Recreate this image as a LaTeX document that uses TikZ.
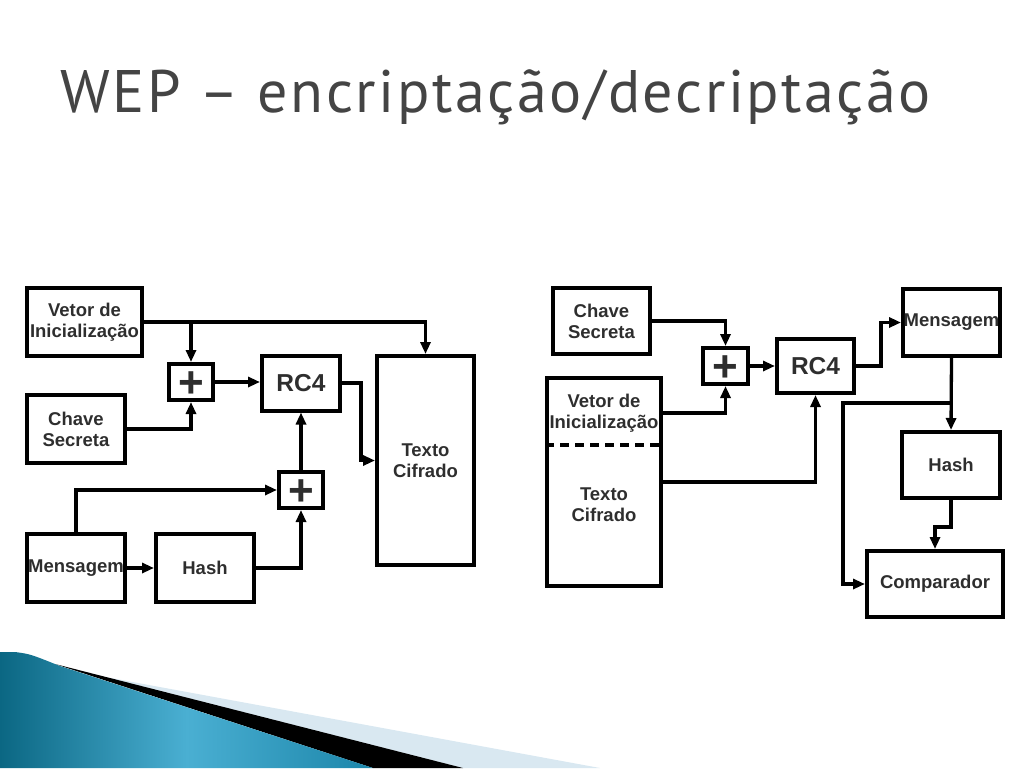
\documentclass[tikz,border=0pt]{standalone}
\usepackage{fontspec}
\setmainfont{Liberation Sans}
\newfontfamily\titlefont[LetterSpace=4.3]{PT Sans}
\usetikzlibrary{arrows.meta}
\definecolor{boxtext}{HTML}{2E2E2E}
\definecolor{titlegray}{HTML}{444444}
\definecolor{waveleft}{HTML}{0B6783}
\definecolor{wavemid}{HTML}{4AAFD2}
\definecolor{waveright}{HTML}{1C86AA}
\definecolor{wavelight}{HTML}{D9E8F1}
\newcommand{\plussign}{\raisebox{-15pt}[0pt][0pt]{+}}

\begin{document}
\begin{tikzpicture}[x=1pt,y=-1pt,
  box/.style={draw,line width=4pt,text=boxtext,align=center,inner sep=0pt,
    font=\bfseries\fontsize{18.5}{21}\selectfont},
  sumbox/.style={box,minimum width=44pt,minimum height=36pt,
    font=\bfseries\fontsize{44}{44}\selectfont},
  rcbox/.style={box,minimum width=77pt,minimum height=54pt,
    font=\bfseries\fontsize{24.5}{28}\selectfont},
  conn/.style={line width=3.3pt,-{Triangle[length=12pt,width=10pt]}}]
\useasboundingbox (0,0) rectangle (1024,768);

% title
\node[anchor=base west,inner sep=0pt,text=titlegray,font=\titlefont\fontsize{60}{70}\selectfont]
  (title) at (60,112) {WEP – encriptação/decriptação};

% bottom wave
\fill[wavelight] (100,676) -- (600,768) -- (463,768) -- cycle;
\fill[black] (55,664) -- (463,768) -- (373,768) -- cycle;
\shade[left color=waveleft,right color=waveright,middle color=wavemid]
  (0,652) -- (15,652) .. controls (30,654) .. (60,666) -- (373,768) -- (0,768) -- cycle;

% encriptacao
\node[box,minimum width=115pt,minimum height=68pt] (viL) at (84.5,322) {Vetor de\\Inicialização};
\node[box,minimum width=98pt,minimum height=68pt] (chL) at (76,429) {Chave\\Secreta};
\node[box,minimum width=98pt,minimum height=68pt] (msgL) at (76,568) {Mensagem};
\node[box,minimum width=98pt,minimum height=68pt] (hashL) at (205,568) {Hash};
\node[sumbox] (plusA) at (191,382) {\plussign};
\node[sumbox] (plusB) at (301,490) {\plussign};
\node[rcbox,minimum width=78pt,minimum height=55pt] (rc4L) at (301,383) {RC4};
\node[box,minimum width=97pt,minimum height=209pt] (txL) at (425.5,460.5) {Texto\\Cifrado};

\draw[conn] (viL.east) -| (txL.north);
\draw[conn] (plusA |- viL.east) -- (plusA.north);
\draw[conn] (chL.east) -| (plusA.south);
\draw[conn] (plusA.east) -- (plusA.east -| rc4L.west);
\draw[conn] (rc4L.east) -- ++(19,0) |- (txL.west);
\draw[conn] (msgL.north) |- (plusB.west);
\draw[conn] (msgL.east) -- (hashL.west);
\draw[conn] (hashL.east) -| (plusB.south);
\draw[conn] (plusB.north) -- (rc4L.south);

% decriptacao
\node[box,minimum width=97pt,minimum height=66pt] (chR) at (601.5,321) {Chave\\Secreta};
\node[box,minimum width=114pt,minimum height=208pt] (vtR) at (604,482) {};
\node[text=boxtext,align=center,inner sep=0pt,font=\bfseries\fontsize{18.5}{21}\selectfont]
  (ivR) at (604,413) {Vetor de\\Inicialização};
\node[text=boxtext,align=center,inner sep=0pt,font=\bfseries\fontsize{18.5}{21}\selectfont]
  (ctR) at (604,505) {Texto\\Cifrado};
\draw[line width=3.5pt,dash pattern=on 9pt off 6pt] (vtR.west |- 0,445) -- (vtR.east |- 0,445);
\node[sumbox,minimum width=45pt] (plusR) at (725.5,366) {\plussign};
\node[rcbox] (rc4R) at (815.5,366) {RC4};
\node[box,minimum width=97pt,minimum height=67pt] (msgR) at (951.5,322.5) {Mensagem};
\node[box,minimum width=98pt,minimum height=66pt] (hashR) at (951,465) {Hash};
\node[box,minimum width=136pt,minimum height=66pt] (cmpR) at (935,584) {Comparador};
\coordinate (jR) at (951,403);

\draw[conn] (chR.east) -| (plusR.north);
\draw[conn] (vtR.east |- ivR) -| (plusR.south);
\draw[conn] (plusR.east) -- (rc4R.west);
\draw[conn] (vtR.east) -| (rc4R.south);
\draw[conn] (rc4R.east) -- ++(25,0) |- (msgR.west);
\draw[conn] (msgR.south) -- (hashR.north);
\draw[conn] (jR) -- ++(-108,0) |- (cmpR.west);
\draw[conn] (hashR.south) -- ++(0,27) -| (cmpR.north);
\end{tikzpicture}
\end{document}
